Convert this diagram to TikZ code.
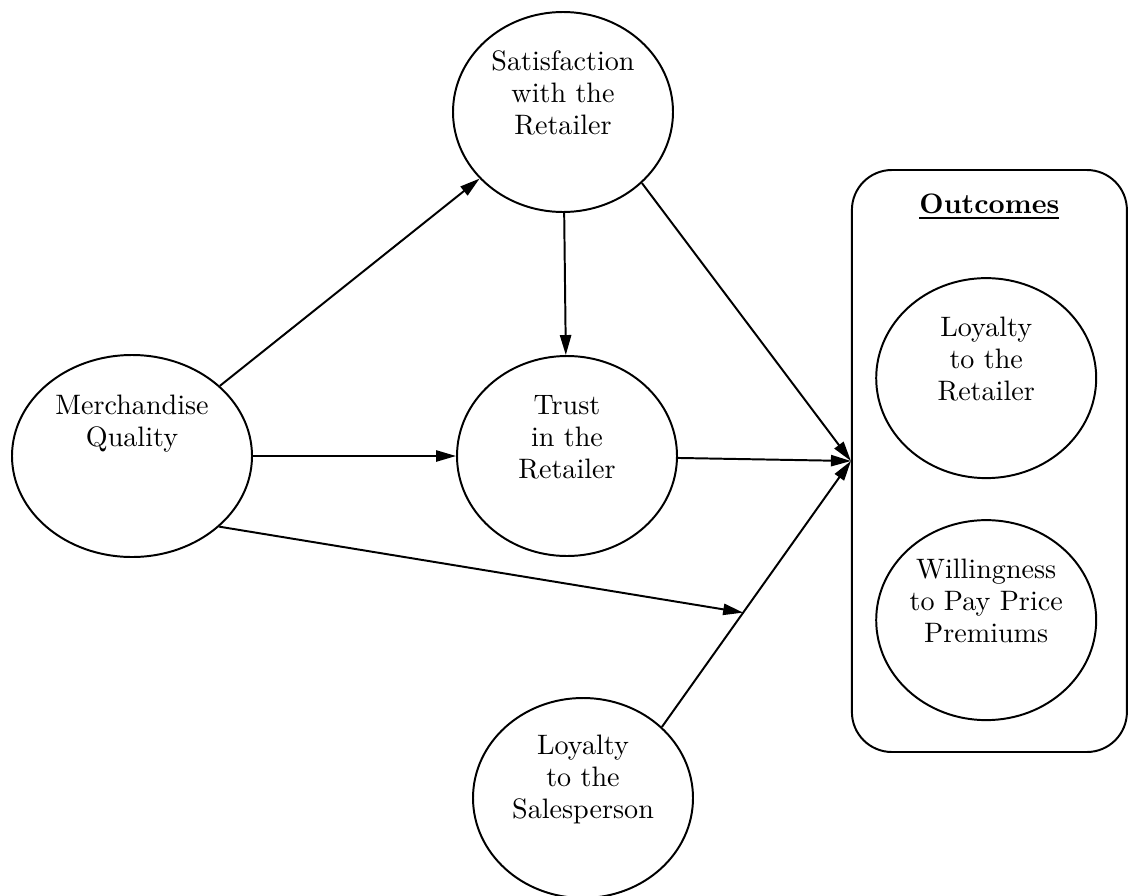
\documentclass[tikz,border=0pt]{standalone}
\usepackage{tikz}
\usepackage{xcolor}
\usetikzlibrary{shapes.geometric}
\usetikzlibrary{positioning}
\usetikzlibrary{arrows.meta}
\tikzstyle{construct} = [ellipse, draw=black, line width=0.7pt, minimum width=2.75cm, minimum height=2.5cm]
\tikzstyle{inside} = [yshift=0.235cm, align=center]
\tikzstyle{outbox} = [rectangle, rounded corners=0.5cm, draw=black, line width=0.7pt, minimum width=3.4375cm, minimum height=7.275cm]
\tikzstyle{arrow} = [line width=0.7pt,->,>={Triangle[length=0.25cm,width=0.14cm]}]

\begin{document}
\begin{tikzpicture}[node distance=2cm, font=\fontsize{10}{11.4}\selectfont]
        \useasboundingbox (0,0) rectangle (14.175,11.1875);
        \node (merch) [construct, minimum width=3cm, minimum height=2.525cm, label={[inside, yshift=0.165cm]center:Merchandise\\Quality}] at (1.65,5.4875) {};
        \node (trust) [construct, right of=merch, xshift=3.4375cm, label={[inside]center:Trust\\in the\\Retailer}] {};
        \node (sat) [construct, above of=trust, yshift=2.3cm, xshift=-0.05cm, label={[inside]center:Satisfaction\\with the\\Retailer}] {};
        \node (sales) [construct, below of=trust, yshift=-2.275cm, xshift=0.2cm, label={[inside]center:Loyalty\\to the\\Salesperson}] {};
        \node (outcomes) [outbox, right of=trust, xshift=3.28cm, yshift=-0.0625cm] {};
        \node (title) [below=0.19cm of outcomes.north] {\textbf{\underline{Outcomes}}};
        \node (loyret) [construct, below of=title, yshift=-0.14cm, xshift=-0.04cm, label={[inside]center:Loyalty\\to the\\Retailer}] {};
        \node (wtp) [construct, below of=loyret, yshift=-1.025cm, label={[inside]center:Willingness\\to Pay Price\\Premiums}] {};

        \draw [arrow] (merch) -- (sat);
        \draw [arrow] (merch) -- (trust);
        \draw [arrow] (sat) -- (trust);
        \draw [arrow] (sat.-42) -- (outcomes.west);
        \draw [arrow] (trust) -- (outcomes.west);
        \draw [arrow] (sales.42) -- coordinate[pos=0.43] (meet) (outcomes.west);
        \draw [arrow] (merch.-39.5) -- (meet);
    \end{tikzpicture}
\end{document}
